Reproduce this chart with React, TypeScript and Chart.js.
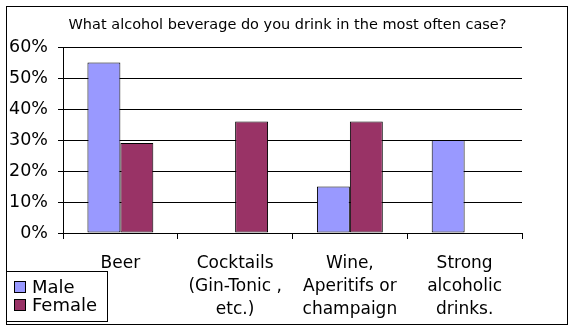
import React, { useEffect, useRef } from "react";
import { Chart, registerables } from "chart.js";

Chart.register(...registerables);

const TITLE = "What alcohol beverage do you drink in the most often case?";
const categories: string[][] = [
  ["Beer"],
  ["Cocktails", "(Gin-Tonic ,", "etc.)"],
  ["Wine,", "Aperitifs or", "champaign"],
  ["Strong", "alcoholic", "drinks."],
];
const maleValues = [55, 0, 15, 30];
const femaleValues = [29, 36, 36, 0];
const seriesNames = ["Male", "Female"];
const seriesColors = ["#9999FF", "#993366"];
const yTicks = [0, 10, 20, 30, 40, 50, 60];

const FONT = "'DejaVu Sans', Verdana, sans-serif";

const framePlugin = {
  id: "frame",
  beforeDraw(chart: any) {
    const ctx = chart.ctx;
    ctx.save();
    ctx.fillStyle = "#ffffff";
    ctx.fillRect(0, 0, chart.width, chart.height);
    ctx.restore();
  },
  afterDraw(chart: any) {
    const ctx = chart.ctx;
    ctx.save();
    ctx.strokeStyle = "#000000";
    ctx.lineWidth = 1;
    ctx.strokeRect(6.5, 6.5, 561, 318);
    // legend box
    ctx.fillStyle = "#ffffff";
    ctx.fillRect(7, 272, 100, 49);
    ctx.strokeRect(6.5, 271.5, 101, 50);
    ctx.font = `18px ${FONT}`;
    ctx.textBaseline = "middle";
    chart.data.datasets.forEach((ds: any, i: number) => {
      const cy = 287 + i * 18;
      ctx.fillStyle = ds.backgroundColor;
      ctx.fillRect(14, cy - 6, 12, 12);
      ctx.strokeStyle = "#000000";
      ctx.strokeRect(14.5, cy - 5.5, 11, 11);
      ctx.fillStyle = "#000000";
      ctx.fillText(ds.label, 32, cy + 1);
    });
    ctx.restore();
  },
};

export default function App() {
  const ref = useRef<HTMLCanvasElement>(null);
  useEffect(() => {
    if (!ref.current) return;
    const chart = new Chart(ref.current, {
      type: "bar",
      data: {
        labels: categories,
        datasets: [
          {
            label: seriesNames[0],
            data: maleValues,
            backgroundColor: seriesColors[0],
            borderColor: "#000000",
            borderWidth: 1,
            borderSkipped: false,
            inflateAmount: 0,
            categoryPercentage: 0.574,
            barPercentage: 1,
          },
          {
            label: seriesNames[1],
            data: femaleValues,
            backgroundColor: seriesColors[1],
            borderColor: "#000000",
            borderWidth: 1,
            borderSkipped: false,
            inflateAmount: 0,
            categoryPercentage: 0.574,
            barPercentage: 1,
          },
        ],
      },
      options: {
        responsive: false,
        animation: false,
        layout: { padding: { left: 0, right: 0, top: 0, bottom: 0 } },
        plugins: {
          legend: { display: false },
          tooltip: { enabled: false },
          title: {
            display: true,
            text: TITLE,
            color: "#000000",
            font: { family: FONT, size: 14.5, weight: "normal", lineHeight: 1.2 },
            padding: { top: 16.3, bottom: 13.3 },
          },
        },
        scales: {
          x: {
            grid: {
              offset: true,
              drawOnChartArea: false,
              drawTicks: true,
              tickLength: 6,
              color: "#000000",
            },
            border: { display: true, color: "#000000" },
            ticks: {
              color: "#000000",
              font: { family: FONT, size: 17, lineHeight: 1.35 },
              padding: 13,
              maxRotation: 0,
              autoSkip: false,
            },
            afterFit: (s: any) => {
              s.height = 97;
            },
          },
          y: {
            min: 0,
            max: 60,
            afterBuildTicks: (s: any) => {
              s.ticks = yTicks.map((v) => ({ value: v }));
            },
            grid: { color: "#000000", tickLength: 5 },
            border: { display: true, color: "#000000" },
            ticks: {
              color: "#000000",
              font: { family: FONT, size: 17.5 },
              padding: 10,
              callback: (v: any) => `${v}%`,
            },
            afterFit: (s: any) => {
              s.width = 63;
            },
          },
          yRight: {
            type: "linear",
            position: "right",
            min: 0,
            max: 60,
            grid: { display: false, drawTicks: false },
            border: { display: false },
            ticks: { display: false },
            afterFit: (s: any) => {
              s.width = 53;
            },
          },
        },
      },
      plugins: [framePlugin],
    });
    return () => chart.destroy();
  }, []);
  return (
    <div style={{ position: "absolute", left: 0, top: 0, width: 575, height: 330 }}>
      <canvas ref={ref} width={575} height={330} />
    </div>
  );
}
